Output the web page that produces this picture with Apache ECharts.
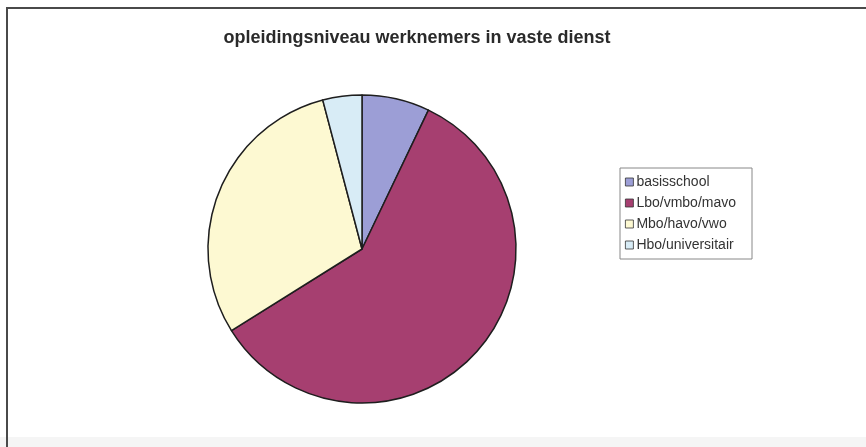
<!DOCTYPE html>
<html><head><meta charset="utf-8">
<script src="https://cdn.jsdelivr.net/npm/echarts@6/dist/echarts.min.js"></script>
<style>html,body{margin:0;padding:0;background:#fff}#c{width:866px;height:447px}</style>
</head><body><div id="c"></div>
<script>
const titleText = 'opleidingsniveau werknemers in vaste dienst';
const categories = ['basisschool', 'Lbo/vmbo/mavo', 'Mbo/havo/vwo', 'Hbo/universitair'];
const values = [7.1, 59.0, 29.8, 4.1];
const colors = ['#9c9ed6', '#a63f70', '#fdf9d2', '#d8ecf6'];

const chart = echarts.init(document.getElementById('c'), null, {renderer: 'canvas'});
chart.setOption({
  backgroundColor: '#ffffff',
  animation: false,
  title: {
    text: titleText, left: 412, top: 24, textAlign: 'center',
    textStyle: {fontFamily: 'Liberation Sans, Arial, sans-serif', fontSize: 18, fontWeight: 'bold', color: '#2a2a2a'}
  },
  legend: {
    orient: 'vertical', left: 620, top: 168,
    itemWidth: 8, itemHeight: 8, itemGap: 7,
    padding: [7, 16, 7, 5],
    borderColor: '#888', borderWidth: 1,
    icon: 'rect',
    itemStyle: {borderColor: '#333', borderWidth: 0.8},
    textStyle: {fontFamily: 'Liberation Sans, Arial, sans-serif', fontSize: 14, color: '#333', padding: [0,0,0,-2]},
    data: categories
  },
  graphic: [
    {type: 'rect', shape: {x: 0, y: 437, width: 866, height: 10}, style: {fill: '#f5f5f5'}},
    {type: 'line', shape: {x1: 7, y1: 8, x2: 866, y2: 8}, style: {stroke: '#4a4a4a', lineWidth: 2}},
    {type: 'line', shape: {x1: 7, y1: 7, x2: 7, y2: 447}, style: {stroke: '#4a4a4a', lineWidth: 2}}
  ],
  series: [{
    type: 'pie',
    center: [362, 249],
    radius: [0, 154],
    startAngle: 90,
    clockwise: true,
    label: {show: false},
    labelLine: {show: false},
    itemStyle: {borderColor: '#1e1e1e', borderWidth: 1.5},
    emphasis: {disabled: true},
    data: categories.map((c, i) => ({name: c, value: values[i], itemStyle: {color: colors[i]}}))
  }]
});
</script></body></html>
